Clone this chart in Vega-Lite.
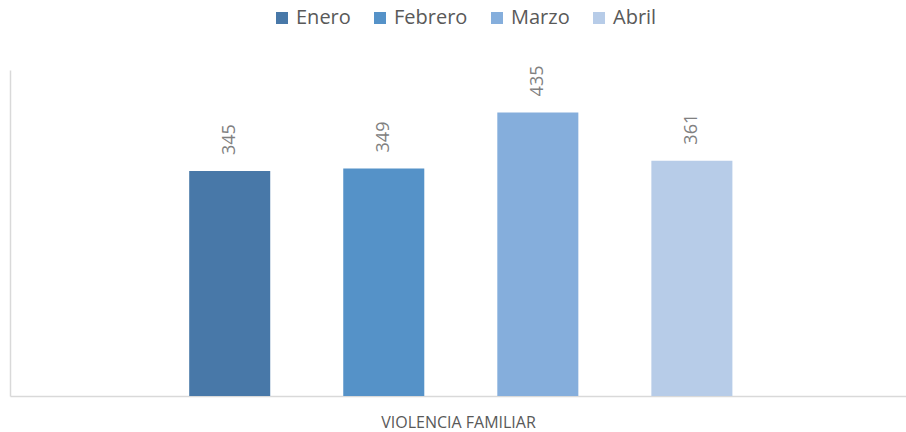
{
  "$schema": "https://vega.github.io/schema/vega-lite/v6.json",
  "width": 896,
  "height": 326,
  "autosize": {"type": "none"},
  "padding": {"left": 10, "top": 70, "right": 0, "bottom": 36},
  "background": "white",
  "config": {"view": {"stroke": null}, "font": "Open Sans"},
  "data": {
    "values": [
      {"categoria": "VIOLENCIA FAMILIAR", "mes": "Enero", "valor": 345},
      {"categoria": "VIOLENCIA FAMILIAR", "mes": "Febrero", "valor": 349},
      {"categoria": "VIOLENCIA FAMILIAR", "mes": "Marzo", "valor": 435},
      {"categoria": "VIOLENCIA FAMILIAR", "mes": "Abril", "valor": 361}
    ]
  },
  "encoding": {
    "x": {
      "field": "categoria",
      "type": "nominal",
      "scale": {"paddingInner": 0, "paddingOuter": 0.227, "align": 0.51},
      "axis": {
        "title": "VIOLENCIA FAMILIAR",
        "labels": false,
        "ticks": false,
        "domainColor": "#d9d9d9",
        "domainWidth": 1.5,
        "titleFont": "Open Sans",
        "titleFontSize": 16,
        "titleFontWeight": "normal",
        "titleColor": "#595959",
        "titlePadding": 18
      }
    },
    "xOffset": {
      "field": "mes",
      "type": "nominal",
      "sort": ["Enero", "Febrero", "Marzo", "Abril"],
      "scale": {"paddingInner": 0.474, "paddingOuter": 0.237}
    },
    "y": {
      "field": "valor",
      "type": "quantitative",
      "scale": {"domain": [0, 500]},
      "axis": {
        "title": null,
        "labels": false,
        "ticks": false,
        "grid": false,
        "domainColor": "#d9d9d9",
        "domainWidth": 1.5
      }
    }
  },
  "layer": [
    {
      "mark": {"type": "bar"},
      "encoding": {
        "color": {
          "field": "mes",
          "type": "nominal",
          "sort": ["Enero", "Febrero", "Marzo", "Abril"],
          "scale": {
            "domain": ["Enero", "Febrero", "Marzo", "Abril"],
            "range": ["#4878a8", "#5592c8", "#85aedc", "#b7cce8"]
          },
          "legend": {
            "title": null,
            "orient": "none",
            "direction": "horizontal",
            "legendX": 262,
            "legendY": -62,
            "symbolType": "square",
            "symbolSize": 144,
            "symbolStrokeWidth": 0,
            "labelFont": "Open Sans",
            "labelFontSize": 20,
            "labelColor": "#595959",
            "labelOffset": 4,
            "columnPadding": 19
          }
        }
      }
    },
    {
      "mark": {
        "type": "text",
        "angle": -90,
        "align": "left",
        "baseline": "middle",
        "dx": 16,
        "font": "Open Sans",
        "fontSize": 18,
        "color": "#808080"
      },
      "encoding": {
        "text": {"field": "valor", "type": "quantitative"}
      }
    }
  ]
}
